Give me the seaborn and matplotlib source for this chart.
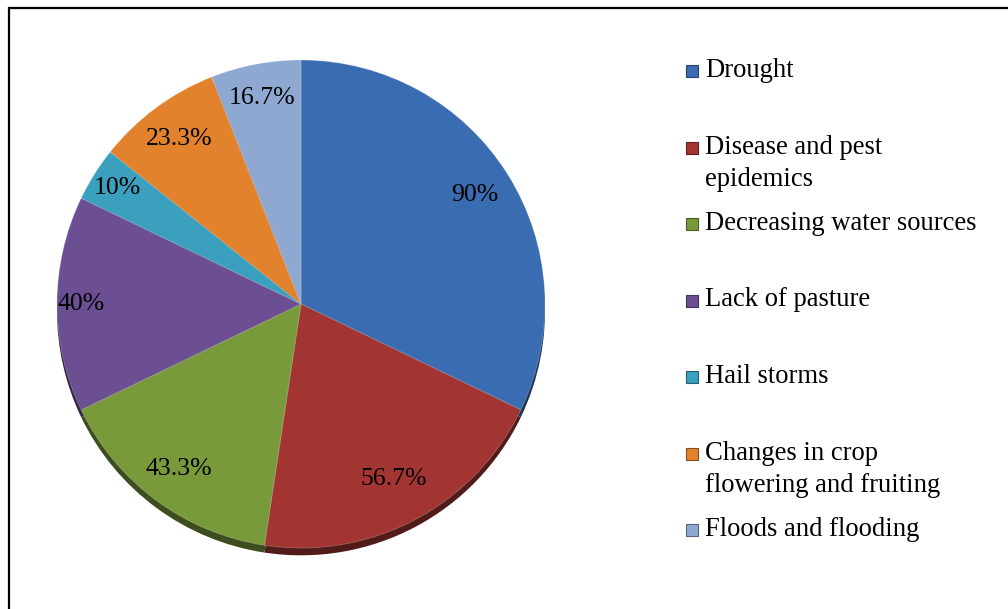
import matplotlib
matplotlib.use("Agg")
import matplotlib.pyplot as plt
import matplotlib.colors as mcolors
from matplotlib.patches import Rectangle
import seaborn as sns
import numpy as np

categories = ["Drought", "Disease and pest\nepidemics", "Decreasing water sources",
              "Lack of pasture", "Hail storms", "Changes in crop\nflowering and fruiting",
              "Floods and flooding"]
values = [90, 56.7, 43.3, 40, 10, 23.3, 16.7]
value_labels = ["90%", "56.7%", "43.3%", "40%", "10%", "23.3%", "16.7%"]
colors = ["#3A6CB2", "#A23532", "#799A3B", "#6C4F92", "#3AA0BE", "#E2822D", "#8EA8D1"]

sns.set_style("white")
plt.rcParams['font.family'] = ['Liberation Serif', 'DejaVu Serif']

W, H = 1008, 609
fig = plt.figure(figsize=(W / 100, H / 100), dpi=100)
fig.patch.set_facecolor("white")

# frame (right/bottom edges cut off in reference)
fig.patches.append(Rectangle((9 / W, -0.2), 1.5, 1.2 - 7.5 / H,
                             transform=fig.transFigure, fill=False,
                             edgecolor="black", linewidth=1.6))

cx, cy, R = 301, H - 304, 244
ax = fig.add_axes([(cx - R * 1.03) / W, (cy - R * 1.06) / H, 2.06 * R / W, 2.09 * R / H])

dark = [tuple(c * 0.5 for c in mcolors.to_rgb(col)) for col in colors]
# rim (3D look)
ax.pie(values, colors=dark, startangle=90, counterclock=False, radius=1.0,
       center=(0, -0.03), wedgeprops=dict(linewidth=0))
wedges, _ = ax.pie(values, colors=colors, startangle=90, counterclock=False,
                   radius=1.0, wedgeprops=dict(linewidth=0.6, edgecolor=(1, 1, 1, 0.25)))

dists = [0.84, 0.81, 0.84, 0.9, 0.89, 0.84, 0.86]
for w, lab, d in zip(wedges, value_labels, dists):
    ang = np.deg2rad((w.theta1 + w.theta2) / 2)
    ax.text(d * np.cos(ang), d * np.sin(ang), lab, ha="center", va="center",
            fontsize=18.5, color="black")
ax.set_xlim(-1.03, 1.03)
ax.set_ylim(-1.06, 1.03)
ax.set_aspect("equal")
ax.axis("off")

# legend (Excel-like layout)
y0 = 71
step = 76.5
for i, (cat, col) in enumerate(zip(categories, colors)):
    y = y0 + i * step
    fig.patches.append(Rectangle((686 / W, 1 - (y + 6) / H), 12 / W, 12 / H,
                                 transform=fig.transFigure, facecolor=col,
                                 edgecolor=tuple(c * 0.6 for c in mcolors.to_rgb(col)),
                                 linewidth=0.8))
    fig.text(705 / W, 1 - (y - 13) / H, cat, ha="left", va="top",
             fontsize=19.2, linespacing=1.42, color="black")

fig.savefig("out.png", dpi=100)
